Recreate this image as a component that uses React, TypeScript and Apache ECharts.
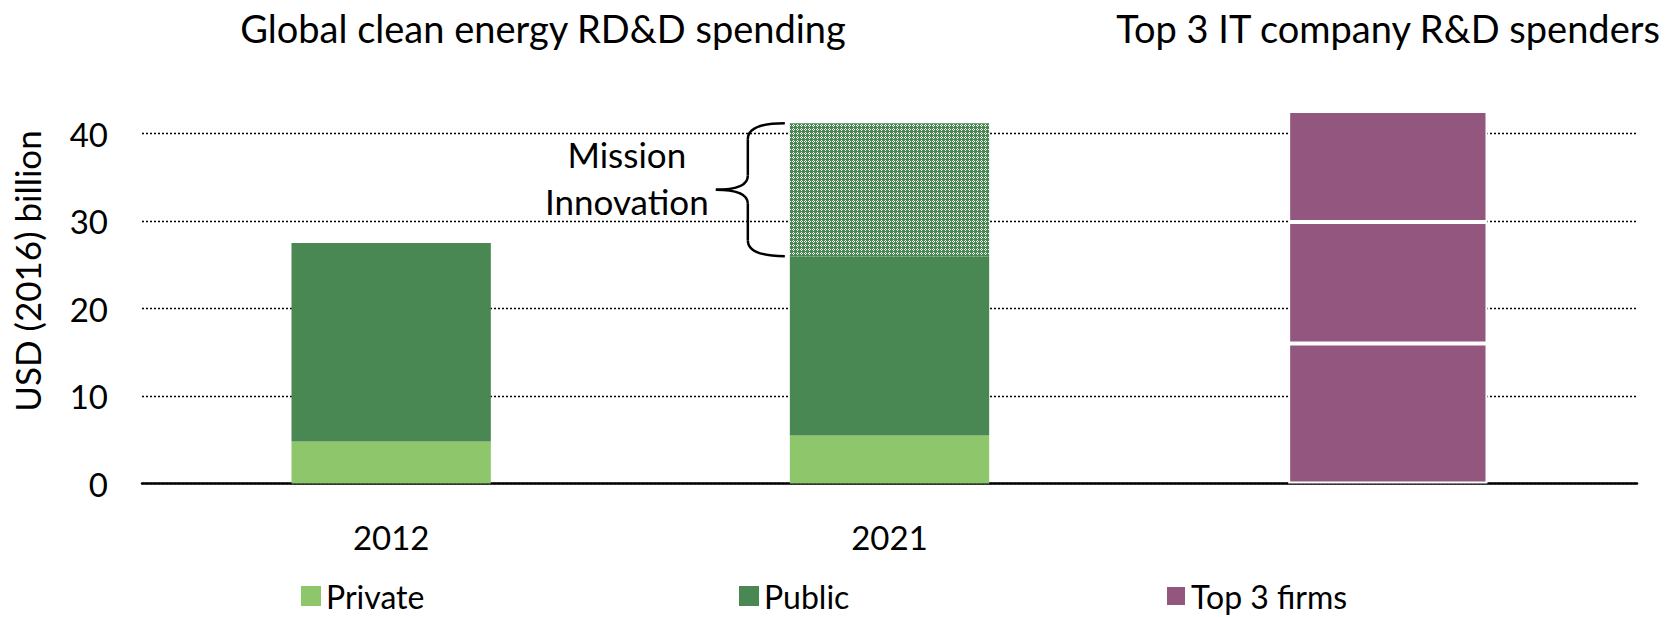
import React, { useEffect, useRef } from 'react';
import * as echarts from 'echarts';

// ---- data ----
const categories = ['2012', '2021', ''];
const privateValues: (number | string)[] = [4.8, 5.5, '-'];
const publicValues: (number | string)[] = [22.7, 20.5, '-'];
const missionInnovationValues: (number | string)[] = ['-', 15.2, '-'];
const topFirmValues = [16.0, 13.9, 12.7]; // three firms stacked in the third column
const yMin = 0;
const yMax = 40;
const yInterval = 10;

const leftTitle = 'Global clean energy RD&D spending';
const rightTitle = 'Top 3 IT company R&D spenders';
const yName = 'USD (2016) billion';
const missionLabel = 'Mission\nInnovation';

const PRIVATE = '#8dc66b';
const PUBLIC = '#4a8853';
const PURPLE = '#93567e';
const FONT = 'Lato';

export default function App() {
  const ref = useRef<HTMLDivElement>(null);
  useEffect(() => {
    document.body.style.margin = '0';
    const chart = echarts.init(ref.current!, null, { renderer: 'svg' });

    const c = document.createElement('canvas');
    c.width = 4;
    c.height = 4;
    const ctx = c.getContext('2d')!;
    ctx.fillStyle = PUBLIC;
    ctx.fillRect(0, 0, 4, 4);
    ctx.fillStyle = '#ffffff';
    [[1, 0], [0, 1], [2, 1], [1, 2]].forEach(([x, y]) => ctx.fillRect(x, y, 1, 1));

    const gridLeft = 142;
    const gridRight = 38;

    const firmSeries = topFirmValues.map((v) => ({
      name: 'Top 3 firms',
      type: 'bar',
      stack: 'total',
      clip: false,
      barWidth: '40%',
      data: ['-', '-', v],
      itemStyle: { color: PURPLE, borderColor: '#ffffff', borderWidth: 2 },
    }));

    const legendText = { fontFamily: FONT, fontSize: 32, lineHeight: 32, color: '#000' };
    const legendBase = {
      top: 580,
      padding: 0,
      itemWidth: 20,
      itemHeight: 20,
      itemGap: 0,
      icon: 'rect',
      textStyle: legendText,
    };

    const titleStyle = { fontFamily: FONT, fontSize: 38, fontWeight: 'normal', color: '#000' };

    chart.setOption({
      animation: false,
      title: [
        { text: leftTitle, left: 538, top: 4, textAlign: 'center', textStyle: titleStyle },
        { text: rightTitle, left: 1383, top: 4, textAlign: 'center', textStyle: titleStyle },
      ],
      legend: [
        { ...legendBase, left: 301, data: ['Private'] },
        { ...legendBase, left: 739, data: ['Public'] },
        { ...legendBase, left: 1165, data: ['Top 3 firms'] },
      ],
      grid: { left: gridLeft, right: gridRight, top: 133.7, bottom: 133.5 },
      xAxis: {
        type: 'category',
        data: categories,
        axisLine: { show: true, lineStyle: { color: '#000', width: 2.5 } },
        axisTick: { show: false },
        axisLabel: { margin: 37, fontFamily: FONT, fontSize: 33, color: '#000' },
      },
      yAxis: {
        type: 'value',
        min: yMin,
        max: yMax,
        interval: yInterval,
        axisLine: { show: false },
        axisTick: { show: false },
        axisLabel: { margin: 34, fontFamily: FONT, fontSize: 33, color: '#000' },
        splitLine: { show: true, lineStyle: { color: '#000', width: 1.4, type: [2, 2] } },
      },
      series: [
        { name: 'Private', type: 'bar', stack: 'total', clip: false, barWidth: '40%', data: privateValues, itemStyle: { color: PRIVATE } },
        { name: 'Public', type: 'bar', stack: 'total', clip: false, barWidth: '40%', data: publicValues, itemStyle: { color: PUBLIC } },
        { name: 'Mission Innovation', type: 'bar', stack: 'total', clip: false, barWidth: '40%', data: missionInnovationValues, itemStyle: { color: { image: c, repetition: 'repeat' } } },
        ...firmSeries,
      ],
    });

    // brace + label, positioned from the data through the axes
    const baseVal = (privateValues[1] as number) + (publicValues[1] as number);
    const topVal = baseVal + (missionInnovationValues[1] as number);
    const pTop = chart.convertToPixel({ gridIndex: 0 }, [1, topVal]) as number[];
    const pBot = chart.convertToPixel({ gridIndex: 0 }, [1, baseVal]) as number[];
    const band = (chart.getWidth() - gridLeft - gridRight) / categories.length;
    const barLeft = pTop[0] - band * 0.2;
    const xr = barLeft - 5;
    const xs = xr - 37;
    const xt = xr - 69;
    const yT = pTop[1];
    const yB = pBot[1];
    const yM = (yT + yB) / 2;
    const st = { stroke: '#000', lineWidth: 2.5, fill: 'none' };
    chart.setOption({
      graphic: [
        { type: 'bezierCurve', shape: { x1: xr, y1: yT, cpx1: xr - 22, cpy1: yT, cpx2: xs, cpy2: yT + 4, x2: xs, y2: yT + 16 }, style: st },
        { type: 'line', shape: { x1: xs, y1: yT + 16, x2: xs, y2: yM - 14 }, style: st },
        { type: 'bezierCurve', shape: { x1: xs, y1: yM - 14, cpx1: xs, cpy1: yM - 4, cpx2: xs - 12, cpy2: yM, x2: xt, y2: yM }, style: st },
        { type: 'bezierCurve', shape: { x1: xt, y1: yM, cpx1: xs - 12, cpy1: yM, cpx2: xs, cpy2: yM + 4, x2: xs, y2: yM + 14 }, style: st },
        { type: 'line', shape: { x1: xs, y1: yM + 14, x2: xs, y2: yB - 16 }, style: st },
        { type: 'bezierCurve', shape: { x1: xs, y1: yB - 16, cpx1: xs, cpy1: yB - 4, cpx2: xr - 22, cpy2: yB, x2: xr, y2: yB }, style: st },
        {
          type: 'text',
          x: xt - 89,
          y: yM - 12,
          style: { text: missionLabel, fontFamily: FONT, fontSize: 35, lineHeight: 47, fill: '#000', align: 'center', verticalAlign: 'middle' },
        },
        {
          type: 'text',
          x: 27,
          y: 271,
          rotation: Math.PI / 2,
          style: { text: yName, fontFamily: FONT, fontSize: 35, fill: '#000', align: 'center', verticalAlign: 'middle' },
        },
      ],
    });

    return () => chart.dispose();
  }, []);
  return <div ref={ref} style={{ width: 1675, height: 617 }} />;
}
